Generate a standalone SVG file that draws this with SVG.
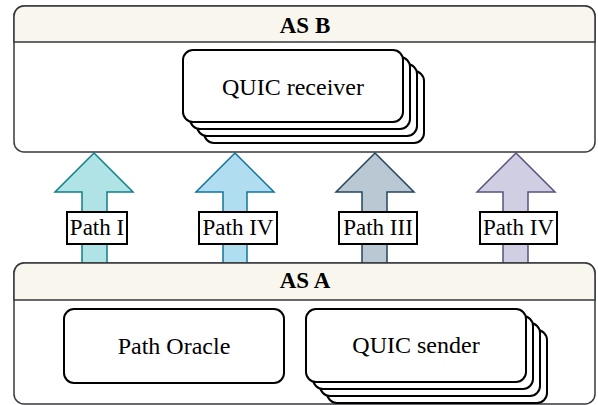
<svg xmlns="http://www.w3.org/2000/svg" width="598" height="405" viewBox="0 0 598 405">
<style>
.cont{fill:#ffffff;stroke:#36393d;stroke-width:1.5}
.hdr{fill:#f9f7ed;stroke:#36393d;stroke-width:1.5}
.box{fill:#ffffff;stroke:#000000;stroke-width:2}
.lbl{fill:#ffffff;stroke:#000000;stroke-width:2}
.t{font-family:"Liberation Serif","Times New Roman",serif;font-size:24px;fill:#000000;text-anchor:middle}
.h{font-family:"Liberation Serif","Times New Roman",serif;font-size:23px;font-weight:bold;fill:#000000;text-anchor:middle}
.lt{font-family:"Liberation Serif","Times New Roman",serif;font-size:23px;fill:#000000;text-anchor:middle}
</style>
<rect width="598" height="405" fill="#ffffff"/>
<g id="as-b">
<rect class="cont" x="14" y="6" width="581" height="146" rx="10"/>
<path class="hdr" d="M14,42 V16 A10,10 0 0 1 24,6 H585 A10,10 0 0 1 595,16 V42 Z"/>
<text class="h" x="305" y="33">AS B</text>
</g>
<g id="quic-receiver">
<rect class="box" x="204" y="71" width="220" height="72" rx="10"/>
<rect class="box" x="197" y="64" width="220" height="72" rx="10"/>
<rect class="box" x="190" y="57" width="220" height="72" rx="10"/>
<rect class="box" x="183" y="50" width="220" height="72" rx="10"/>
<text class="t" x="293" y="95">QUIC receiver</text>
</g>
<g id="connectors">
<g id="path-1">
<polygon points="94,153 133,192 107,192 107,264 82,264 82,192 55,192" fill="#b0e3e6" stroke="#0e8088" stroke-width="1.5"/>
</g>
<g id="path-2">
<polygon points="235,153 274,192 247,192 247,264 223,264 223,192 196,192" fill="#b1ddf0" stroke="#10739e" stroke-width="1.5"/>
</g>
<g id="path-3">
<polygon points="375,153 414,192 387,192 387,264 362,264 362,192 336,192" fill="#bac8d3" stroke="#23445d" stroke-width="1.5"/>
</g>
<g id="path-4">
<polygon points="516,153 555,192 528,192 528,264 503,264 503,192 477,192" fill="#d0cee2" stroke="#56517e" stroke-width="1.5"/>
</g>
<g id="label-1">
<rect class="lbl" x="67" y="212" width="60" height="32"/>
<text class="lt" x="97" y="235">Path I</text>
</g>
<g id="label-2">
<rect class="lbl" x="199" y="212" width="78" height="32"/>
<text class="lt" x="238" y="235">Path IV</text>
</g>
<g id="label-3">
<rect class="lbl" x="339" y="212" width="78" height="32"/>
<text class="lt" x="378" y="235">Path III</text>
</g>
<g id="label-4">
<rect class="lbl" x="480" y="212" width="77" height="32"/>
<text class="lt" x="518.5" y="235">Path IV</text>
</g>
</g>
<g id="as-a">
<rect class="cont" x="14" y="263" width="581" height="141" rx="10"/>
<path class="hdr" d="M14,300 V273 A10,10 0 0 1 24,263 H585 A10,10 0 0 1 595,273 V300 Z"/>
<text class="h" x="305" y="288">AS A</text>
</g>
<g id="path-oracle">
<rect class="box" x="64" y="309" width="220" height="74" rx="10"/>
<text class="t" x="174" y="354">Path Oracle</text>
</g>
<g id="quic-sender">
<rect class="box" x="327" y="330" width="220" height="73" rx="10"/>
<rect class="box" x="320" y="323" width="220" height="73" rx="10"/>
<rect class="box" x="313" y="316" width="220" height="73" rx="10"/>
<rect class="box" x="306" y="309" width="220" height="73" rx="10"/>
<text class="t" x="416" y="353">QUIC sender</text>
</g>
</svg>
